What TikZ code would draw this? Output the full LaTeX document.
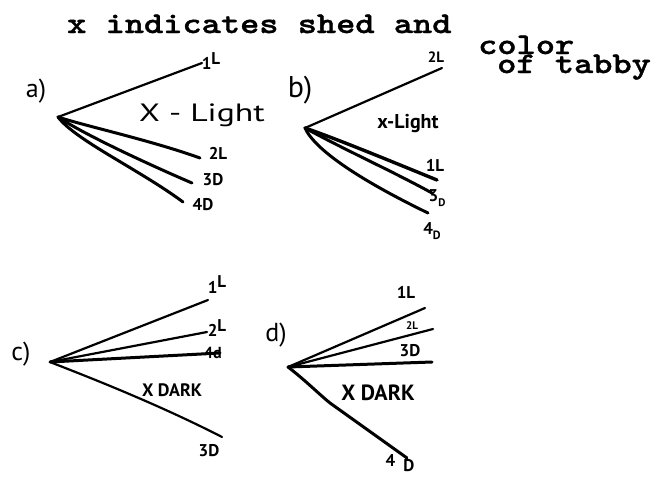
\documentclass[tikz,border=0pt]{standalone}
\usepackage{fontspec}
\usepackage{graphicx}
\newfontfamily\hand{PT Sans}
\newfontfamily\tww{lmmonolt10-bold.otf}[FakeBold=1.2, FakeStretch=1.22]
\tikzset{
  thinln/.style={line width=2.2pt, line cap=round, line join=round},
  thickln/.style={line width=3pt, line cap=round, line join=round},
  tw/.style={inner sep=0pt, anchor=base west, font=\tww\fontsize{30}{30}\selectfont},
  lab/.style={inner sep=0pt, font=\hand\bfseries\fontsize{17}{17}\selectfont},
  big/.style={inner sep=0pt, font=\hand\fontsize{26}{26}\selectfont},
}
\begin{document}
\begin{tikzpicture}[x=1pt,y=-1pt]
\useasboundingbox (0,0) rectangle (666,477);
% title
\node[tw] (t1) at (67,33) {x indicates shed and};
\node[tw] (t2) at (478,54) {color};
\node[tw] (t3) at (497,73) {of tabby};

% ---------- a)
\coordinate (A) at (58,117);
\coordinate (a1) at (202,63);
\coordinate (a2) at (200,158);
\coordinate (a3) at (192,183);
\coordinate (a4) at (183,202);
\node[big] (la) at (36,91) {a)};
\draw[thinln] (A) -- (a1);
\draw[thickln] (A) .. controls (85,126) and (150,140) .. (a2);
\draw[thickln] (A) .. controls (85,135) and (150,165) .. (a3);
\draw[thickln] (A) .. controls (75,140) and (140,170) .. (a4);
\node[lab] (a1l) at (211,61) {1\raisebox{5pt}{L}};
\node[lab] (a2l) at (218,153) {2L};
\node[lab] (a3l) at (213,180) {3D};
\node[lab] (a4l) at (203,205) {4D};
\node[inner sep=0pt, font=\hand\fontsize{25}{25}\selectfont] (xl) at (202,115) {\scalebox{1.35}[1]{X - Light}};

% ---------- b)
\coordinate (B) at (305,128);
\coordinate (b1) at (442,68);
\coordinate (b2) at (437,180);
\coordinate (b3) at (432,193);
\coordinate (b4) at (428,213);
\node[big, font=\hand\fontsize{30}{30}\selectfont] (lb) at (300,90) {b)};
\draw[thinln] (B) -- (b1);
\draw[thickln, line width=3.4pt] (B) .. controls (340,140) and (400,165) .. (b2);
\draw[thickln] (B) .. controls (345,150) and (390,170) .. (b3);
\draw[thickln] (B) .. controls (315,150) and (360,180) .. (b4);
\node[lab, font=\hand\bfseries\fontsize{15}{15}\selectfont] (b1l) at (436,57) {2L};
\node[inner sep=0pt, font=\hand\bfseries\fontsize{20}{20}\selectfont] (xlb) at (408,124) {x-Light};
\node[lab] (b2l) at (435,165) {1L};
\node[lab] (b3l) at (437,198) {3\raisebox{-5pt}{\fontsize{11}{11}\selectfont D}};
\node[lab] (b4l) at (432,231) {4\raisebox{-5pt}{\fontsize{12}{12}\selectfont D}};

% ---------- c)
\coordinate (C) at (50,362);
\coordinate (c1) at (208,300);
\coordinate (c2) at (207,332);
\coordinate (c3) at (220,353);
\coordinate (c4) at (222,437);
\node[big] (lc) at (21,354) {c)};
\draw[thinln] (C) -- (c1);
\draw[thinln] (C) -- (c2);
\draw[thickln] (C) -- (c3);
\draw[thinln] (C) .. controls (70,370) and (150,400) .. (c4);
\node[lab] (c1l) at (217,285) {1\raisebox{6pt}{L}};
\node[lab] (c2l) at (217,328) {2\raisebox{5pt}{L}};
\node[lab, font=\hand\bfseries\fontsize{16}{16}\selectfont] (c3l) at (213,353) {4d};
\node[inner sep=0pt, font=\hand\bfseries\fontsize{18}{18}\selectfont] (xd) at (172,390) {X DARK};
\node[lab] (c4l) at (209,451) {3D};

% ---------- d)
\coordinate (D) at (288,367);
\coordinate (d1) at (425,308);
\coordinate (d2) at (433,329);
\coordinate (d3) at (432,362);
\coordinate (d4) at (407,458);
\node[big] (ld) at (276,335) {d)};
\draw[thinln] (D) -- (d1);
\draw[thinln] (D) -- (d2);
\draw[thickln] (D) -- (d3);
\draw[thickln] (D) .. controls (305,380) and (320,395) .. (330,403) -- (d4);
\node[lab] (d1l) at (406,292) {1L};
\node[lab, font=\hand\bfseries\fontsize{11}{11}\selectfont] (d2l) at (412,326) {2L};
\node[lab] (d3l) at (410,351) {3D};
\node[inner sep=0pt, font=\hand\bfseries\fontsize{22}{22}\selectfont] (xd2) at (378,393) {X DARK};
\node[lab] (d4l) at (400,463) {4\hspace{8pt}\raisebox{-5pt}{D}};
\end{tikzpicture}
\end{document}
